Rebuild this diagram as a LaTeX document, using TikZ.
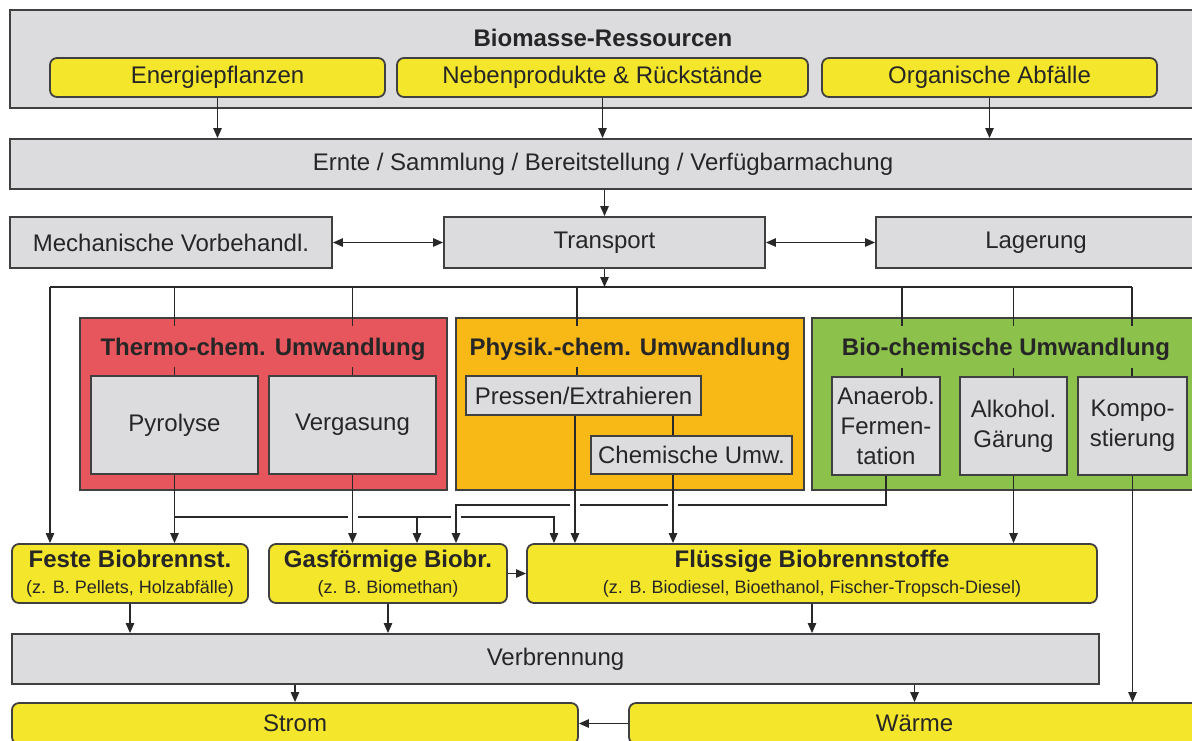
\documentclass[tikz,border=0pt]{standalone}
\usepackage{fontspec}
\setmainfont{Liberation Sans}
\usetikzlibrary{arrows.meta,calc}
\definecolor{boxgray}{RGB}{220,220,223}
\definecolor{yel}{RGB}{244,230,42}
\definecolor{thermo}{RGB}{231,86,92}
\definecolor{physik}{RGB}{248,185,22}
\definecolor{bio}{RGB}{140,193,75}
\definecolor{edge}{RGB}{64,64,64}
\definecolor{wire}{RGB}{40,40,40}
\definecolor{txt}{RGB}{38,38,38}
\begin{document}
\begin{tikzpicture}[x=0.5pt,y=-0.5pt,
  every node/.style={text=txt},
  span/.style n args={4}{minimum width={(#3-#1)*0.5pt}, minimum height={(#4-#2)*0.5pt},
    at={({(#1+#3)/2},{(#2+#4)/2})}},
  normal/.style={font=\fontsize{12}{15}\selectfont},
  graybox/.style={draw=edge, fill=boxgray, line width=0.9pt, inner sep=0pt, normal, align=center},
  yelbox/.style={graybox, fill=yel, rounded corners=3.5pt},
  grp/.style={draw=edge, line width=0.8pt, inner sep=0pt},
  grptitle/.style={font=\fontsize{12}{15}\selectfont\bfseries, text=black!85},
  small/.style={font=\fontsize{8.8}{11}\selectfont},
  conn/.style={draw=wire, line width=0.72pt},
  arr/.style={conn, -{Triangle[length=5pt,width=4.2pt]}},
  darr/.style={conn, {Triangle[length=5pt,width=4.2pt]}-{Triangle[length=5pt,width=4.2pt]}},
  gap/.style={fill=white}
]
\fill[white] (0,0) rectangle (1192,740);
\clip (0,0) rectangle (1192,740);

% ---------- resources ----------
\node[graybox, span={10}{10}{1196}{108}] (res) {};
\node[grptitle] (restitle) at (603,38) {Biomasse-Ressourcen};
\node[yelbox, span={50}{58}{385}{97}] (energ) {Energiepflanzen};
\node[yelbox, span={397}{58}{808}{97}] (neben) {Nebenprodukte \& Rückstände};
\node[yelbox, span={822}{58}{1157}{97}] (abf) {Organische Abfälle};

% ---------- logistics ----------
\node[graybox, span={10}{139}{1196}{189}] (ernte) {Ernte / Sammlung / Bereitstellung / Verfügbarmachung};
\node[graybox, span={10}{217}{332}{268}] (mech) {Mechanische Vorbehandl.};
\node[graybox, span={444}{217}{765}{268}] (trans) {Transport};
\node[graybox, span={876}{217}{1196}{268}] (lager) {Lagerung};

% ---------- conversion groups ----------
\node[grp, fill=thermo, span={80}{318}{447}{490}] (thermo) {};
\node[grptitle] (ttitle) at (263,349) {Thermo-chem. Umwandlung};
\node[graybox, span={91}{376}{258}{474}] (pyr) {Pyrolyse};
\node[graybox, span={269}{376}{436}{474}] (verg) {Vergasung};

\node[grp, fill=physik, span={456}{318}{804}{490}] (physik) {};
\node[grptitle] (ptitle) at (630,349) {Physik.-chem. Umwandlung};
\node[graybox, span={466}{376}{701}{415}] (pres) {Pressen/Extrahieren};
\node[graybox, span={591}{436}{792}{474}] (chem) {Chemische Umw.};

\node[grp, fill=bio, span={812}{318}{1196}{490}] (bio) {};
\node[grptitle] (btitle) at (1006,349) {Bio-chemische Umwandlung};
\node[graybox, span={832}{377}{940}{475}] (ana) {Anaerob.\\Fermen-\\tation};
\node[graybox, span={960}{377}{1067}{475}] (alk) {Alkohol.\\Gärung};
\node[graybox, span={1078}{377}{1187}{475}] (komp) {Kompo-\\stierung};

% ---------- fuels ----------
\node[yelbox, span={12}{544}{248}{603}] (fest) {\textbf{Feste Biobrennst.}\\[-2pt]{\small (z. B. Pellets, Holzabfälle)}};
\node[yelbox, span={269}{544}{507}{603}] (gas) {\textbf{Gasförmige Biobr.}\\[-2pt]{\small (z. B. Biomethan)}};
\node[yelbox, span={527}{544}{1097}{603}] (flu) {\textbf{Flüssige Biobrennstoffe}\\[-2pt]{\small (z. B. Biodiesel, Bioethanol, Fischer-Tropsch-Diesel)}};

% ---------- use ----------
\node[graybox, span={12}{634}{1099}{684}] (verb) {Verbrennung};
\node[yelbox, span={12}{703}{578}{744}] (strom) {Strom};
\node[yelbox, span={629}{703}{1200}{744}] (waerme) {Wärme};

% ---------- helper points ----------
\coordinate (dl) at (50,287);
\coordinate (dr) at (1132,287);
\coordinate (px) at (577,287);
\coordinate (ax) at (902,287);
\coordinate (jp) at (175,517);
\coordinate (jg) at (417,517);
\coordinate (jf) at (554,517);
\coordinate (ja) at (456,505);
\coordinate (pv) at (575,0);
\coordinate (cv) at (673,0);

% ---------- flow: resources to transport ----------
\draw[arr] (energ.south) -- (energ.south |- ernte.north);
\draw[arr] (neben.south) -- (neben.south |- ernte.north);
\draw[arr] (abf.south) -- (abf.south |- ernte.north);
\draw[arr] (ernte.south -| trans.north) -- (trans.north);
\draw[darr] (mech.east) -- (trans.west);
\draw[darr] (trans.east) -- (lager.west);
\draw[arr] (trans.south) -- (trans.south |- dl);

% ---------- distribution to the conversion paths ----------
\draw[conn] (dl) -- (dr);
\draw[arr] (dl) -- (dl |- fest.north);
\draw[conn] (pyr.north |- dl) -- (pyr.north |- thermo.north);
\draw[conn] (verg.north |- dl) -- (verg.north |- thermo.north);
\draw[conn] (px) -- (px |- physik.north);
\draw[conn] (ax) -- (ax |- bio.north);
\draw[conn] (alk.north |- dl) -- (alk.north |- bio.north);
\draw[conn] (dr) -- (dr |- bio.north);
% short entry marks inside the groups
\foreach \g/\b/\x in {thermo/pyr/pyr.north, thermo/verg/verg.north, physik/pres/px, bio/ana/ax, bio/alk/alk.north, bio/komp/dr} {
  \draw[conn] (\x |- \g.north) -- ++(0,9);
  \draw[conn] (\x |- \b.north) -- ++(0,-8);
}

% ---------- conversion outputs ----------
\draw[arr] (pyr.south) -- (pyr.south |- fest.north);
\draw[arr] (jp) -- (jf) -- (jf |- flu.north);
\draw[arr] (jg) -- (jg |- gas.north);
\fill[gap] ($(verg.south |- jp)+(-5,-2.5)$) rectangle ($(verg.south |- jp)+(5,2.5)$);
\fill[gap] ($(ja |- jp)+(-5,-2.5)$) rectangle ($(ja |- jp)+(5,2.5)$);
\draw[arr] (ana.south) |- (ja) -- (ja |- gas.north);
\fill[gap] ($(pv |- ja)+(-5,-2.5)$) rectangle ($(pv |- ja)+(5,2.5)$);
\fill[gap] ($(cv |- ja)+(-5,-2.5)$) rectangle ($(cv |- ja)+(5,2.5)$);
\draw[arr] (verg.south) -- (verg.south |- gas.north);
\draw[arr] (pv |- pres.south) -- (pv |- flu.north);
\draw[conn] (cv |- pres.south) -- (cv |- chem.north);
\draw[arr] (cv |- chem.south) -- (cv |- flu.north);
\draw[arr] (alk.south) -- (alk.south |- flu.north);
\draw[arr] (komp.south) -- (komp.south |- waerme.north);
\draw[arr] (gas.east) -- (flu.west |- gas.east);

% ---------- combustion and final energy ----------
\draw[arr] (fest.south) -- (fest.south |- verb.north);
\draw[arr] (gas.south) -- (gas.south |- verb.north);
\draw[arr] (flu.south) -- (flu.south |- verb.north);
\draw[arr] (verb.south -| strom.north) -- (strom.north);
\draw[arr] (verb.south -| waerme.north) -- (waerme.north);
\draw[arr] (waerme.west) -- (strom.east);
\end{tikzpicture}
\end{document}
